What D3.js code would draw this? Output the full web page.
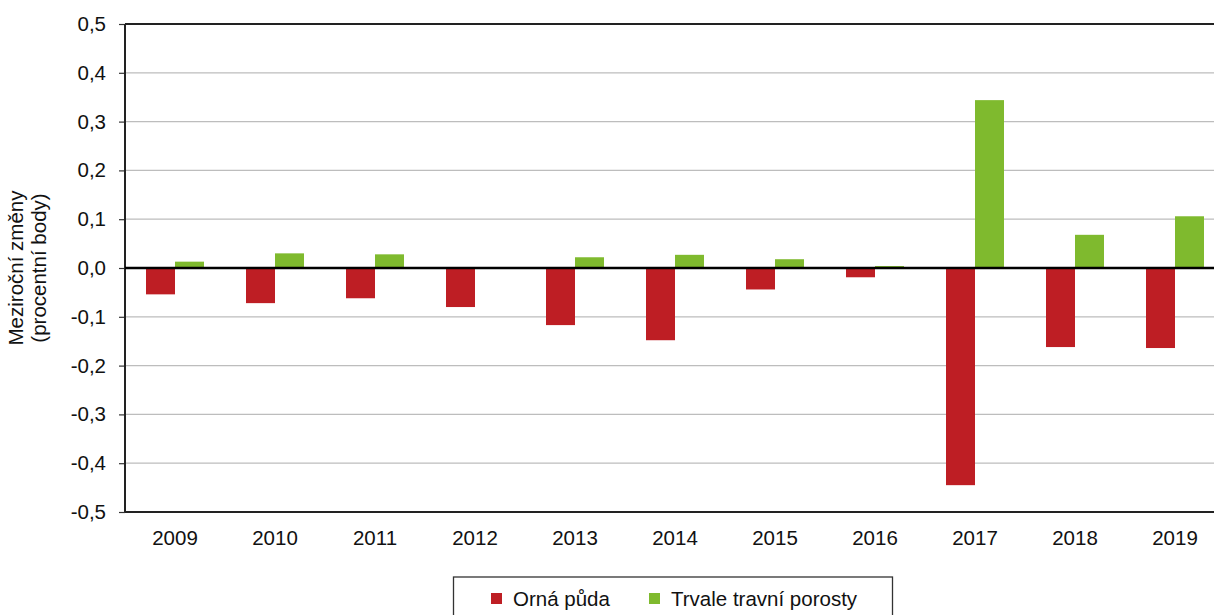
<!DOCTYPE html>
<html>
<head>
<meta charset="utf-8">
<script src="https://cdn.jsdelivr.net/npm/d3@7"></script>
<style>
  body { margin: 0; background: #fff; }
  svg { display: block; font-family: "Liberation Sans", Arial, sans-serif; }
</style>
</head>
<body>
<div id="chart"></div>
<script>
width = 1214;
height = 615;

margin = { top: 24, right: -11, bottom: 103, left: 125 };

// data
const years = ['2009', '2010', '2011', '2012', '2013', '2014', '2015', '2016', '2017', '2018', '2019'];
const ornaPuda = [-0.054, -0.072, -0.062, -0.080, -0.117, -0.148, -0.044, -0.019, -0.445, -0.162, -0.164];
const trvaleTravni = [0.013, 0.030, 0.028, 0, 0.022, 0.027, 0.018, 0.004, 0.344, 0.068, 0.106];
const yTicks = [-0.5, -0.4, -0.3, -0.2, -0.1, 0, 0.1, 0.2, 0.3, 0.4, 0.5];
const seriesNames = ['Orná půda', 'Trvale travní porosty'];
const seriesColors = ['#be1e24', '#7fba2e'];

const svg = d3.select('#chart')
    .append('svg')
    .attr('width', width)
    .attr('height', height);

//////// scales ////////
const xScale = d3.scaleBand()
    .domain(years)
    .range([margin.left, width - margin.right])
    .paddingInner(0.42)
    .paddingOuter(0.21);

const xSub = d3.scaleBand()
    .domain([0, 1])
    .range([0, xScale.bandwidth()]);

const yScale = d3.scaleLinear()
    .domain([-0.5, 0.5])
    .range([height - margin.bottom, margin.top]);

const fmt = d => d3.format('.1f')(d).replace('.', ',').replace('−', '-');

//////// gridlines ////////
svg.append('g')
    .selectAll('line')
    .data(yTicks.filter(d => d !== 0 && Math.abs(d) !== 0.5))
    .join('line')
    .attr('x1', margin.left)
    .attr('x2', width)
    .attr('y1', d => yScale(d))
    .attr('y2', d => yScale(d))
    .attr('stroke', '#bdbdbd')
    .attr('stroke-width', 1.2);

// top border
svg.append('line')
    .attr('x1', margin.left).attr('x2', width)
    .attr('y1', yScale(0.5)).attr('y2', yScale(0.5))
    .attr('stroke', '#222').attr('stroke-width', 2);

//////// bars ////////
const barData = [];
years.forEach((y, i) => {
    barData.push({ year: y, s: 0, value: ornaPuda[i] });
    barData.push({ year: y, s: 1, value: trvaleTravni[i] });
});

svg.append('g')
    .selectAll('rect')
    .data(barData.filter(d => d.value !== 0))
    .join('rect')
    .attr('x', d => xScale(d.year) + xSub(d.s))
    .attr('width', xSub.bandwidth())
    .attr('y', d => yScale(Math.max(0, d.value)))
    .attr('height', d => Math.abs(yScale(d.value) - yScale(0)))
    .attr('fill', d => seriesColors[d.s]);

//////// axes ////////
const yAxis = d3.axisLeft(yScale)
    .tickValues(yTicks)
    .tickFormat(fmt)
    .tickSize(6)
    .tickPadding(13);

svg.append('g')
    .attr('transform', `translate(${margin.left},0)`)
    .call(yAxis)
    .call(g => g.select('.domain').remove())
    .call(g => g.selectAll('line').attr('stroke', '#333').attr('stroke-width', 1.2))
    .call(g => g.selectAll('text').attr('font-size', '20.5px').attr('fill', '#111'));

svg.append('line')
    .attr('x1', margin.left).attr('x2', margin.left)
    .attr('y1', yScale(0.5)).attr('y2', yScale(-0.5))
    .attr('stroke', '#222').attr('stroke-width', 2);

// bottom axis line
svg.append('line')
    .attr('x1', margin.left).attr('x2', width)
    .attr('y1', yScale(-0.5)).attr('y2', yScale(-0.5))
    .attr('stroke', '#222').attr('stroke-width', 2);

// zero line
svg.append('line')
    .attr('x1', margin.left).attr('x2', width)
    .attr('y1', yScale(0)).attr('y2', yScale(0))
    .attr('stroke', '#000').attr('stroke-width', 2.5);

// year labels
svg.append('g')
    .selectAll('text')
    .data(years)
    .join('text')
    .attr('x', d => xScale(d) + xScale.bandwidth() / 2)
    .attr('y', yScale(-0.5) + 33)
    .attr('text-anchor', 'middle')
    .attr('font-size', '20.5px')
    .attr('fill', '#111')
    .text(d => d);

// y axis title
const yTitle = svg.append('text')
    .attr('transform', `translate(29,${yScale(0)}) rotate(-90)`)
    .attr('text-anchor', 'middle')
    .attr('font-size', '20.5px')
    .attr('fill', '#111');
yTitle.append('tspan').attr('x', 0).attr('dy', '-0.3em').text('Meziroční změny');
yTitle.append('tspan').attr('x', 0).attr('dy', '1.15em').text('(procentní body)');

//////// legend ////////
const legend = svg.append('g');
legend.append('rect')
    .attr('x', 453.5).attr('y', 577)
    .attr('width', 439).attr('height', 50)
    .attr('fill', '#fff')
    .attr('stroke', '#333').attr('stroke-width', 1.3);

const legendX = [491, 649];
const items = legend.selectAll('g.item')
    .data(seriesNames)
    .join('g')
    .attr('class', 'item')
    .attr('transform', (d, i) => `translate(${legendX[i]},593)`);
items.append('rect')
    .attr('width', 11).attr('height', 11)
    .attr('fill', (d, i) => seriesColors[i]);
items.append('text')
    .attr('x', 22).attr('y', 12.5)
    .attr('font-size', '20.5px')
    .attr('fill', '#111')
    .text(d => d);
</script>
</body>
</html>
